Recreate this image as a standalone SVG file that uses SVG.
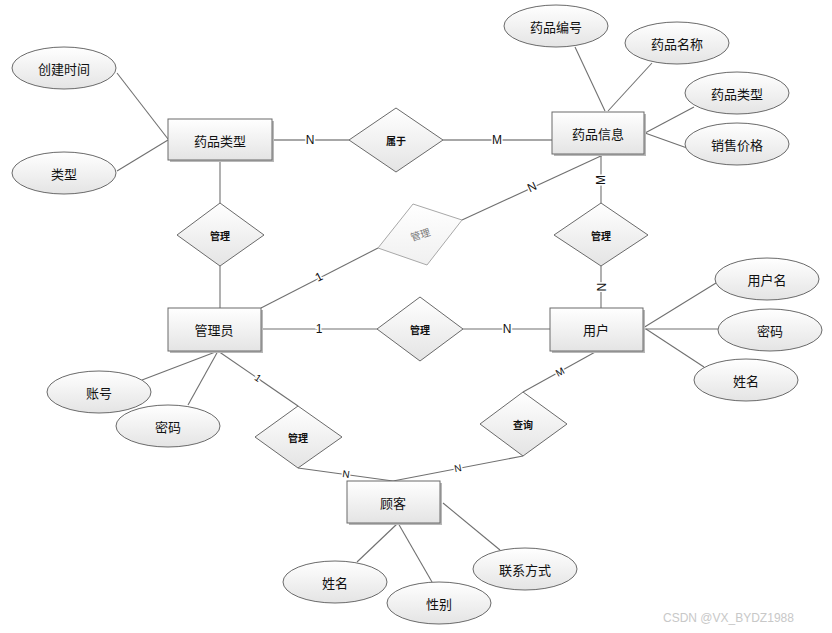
<svg xmlns="http://www.w3.org/2000/svg" width="832" height="633" viewBox="0 0 832 633">
<defs>
<linearGradient id="g" x1="0" y1="0" x2="0" y2="1">
<stop offset="0" stop-color="#ffffff"/>
<stop offset="1" stop-color="#e4e4e4"/>
</linearGradient>
<linearGradient id="gf" x1="0" y1="0" x2="0" y2="1">
<stop offset="0" stop-color="#ffffff"/>
<stop offset="1" stop-color="#f0f0f0"/>
</linearGradient>
</defs>
<style>
.ent rect.s{fill:#b8b8b8}
.ent rect.b{fill:url(#g);stroke:#6a6a6a;stroke-width:1}
.att ellipse{fill:url(#g);stroke:#6a6a6a;stroke-width:1}
.rel polygon{fill:url(#g);stroke:#6a6a6a;stroke-width:1}
.faded polygon{fill:url(#gf);stroke:#a8a8a8;stroke-width:1}
text{font-family:"Noto Sans CJK SC","Liberation Sans",sans-serif;text-anchor:middle;dominant-baseline:central;fill:#111}
.t{font-size:13px}
.r{font-size:10px;font-weight:bold}
.faded text{fill:#777;font-weight:normal}
.edges line{stroke:#707070;stroke-width:1.1}
.edges line.h{stroke:#8a8a8a;stroke-width:1.6}
.lab{font-family:"Liberation Sans","DejaVu Sans",sans-serif;font-size:12px;stroke:#fff;stroke-width:3;paint-order:stroke;fill:#111}
.lab.s{font-size:10px}
.wm{font-family:"Liberation Sans",sans-serif;font-size:12px;fill:#c8c8c8;text-anchor:start}
</style>
<rect width="832" height="633" fill="#fff"/>

<g class="edges" id="connectors">
<line x1="117" y1="73" x2="168" y2="139"/>
<line x1="117" y1="171" x2="168" y2="140"/>
<line class="h" x1="272" y1="140" x2="349" y2="140"/>
<line class="h" x1="443" y1="140" x2="552" y2="140"/>
<line x1="220" y1="160" x2="220" y2="203"/>
<line x1="220" y1="266" x2="220" y2="308"/>
<line x1="261" y1="308" x2="378" y2="248"/>
<line x1="462" y1="220" x2="603" y2="155"/>
<line x1="601" y1="154" x2="601" y2="203"/>
<line x1="601" y1="266" x2="601" y2="308"/>
<line x1="261" y1="329" x2="377" y2="329"/>
<line x1="463" y1="329" x2="550" y2="329"/>
<line x1="643" y1="328" x2="716" y2="283"/>
<line x1="643" y1="329" x2="718" y2="329"/>
<line x1="646" y1="329" x2="704" y2="367"/>
<line x1="605" y1="111" x2="575" y2="47"/>
<line x1="608" y1="111" x2="652" y2="63"/>
<line x1="645" y1="133" x2="694" y2="107"/>
<line x1="645" y1="133" x2="687" y2="148"/>
<line x1="218" y1="351" x2="142" y2="380"/>
<line x1="218" y1="351" x2="188" y2="405"/>
<line x1="218" y1="351" x2="298" y2="406"/>
<line x1="298" y1="468" x2="393" y2="481"/>
<line x1="523" y1="456" x2="393" y2="481"/>
<line x1="523" y1="392" x2="597" y2="351"/>
<line x1="398" y1="523" x2="357" y2="562"/>
<line x1="398" y1="523" x2="432" y2="582"/>
<line x1="443" y1="503" x2="500" y2="550"/>
<text class="lab" x="310" y="140">N</text>
<text class="lab" x="497" y="140">M</text>
<text class="lab" x="319" y="277" transform="rotate(-27 319 277)">1</text>
<text class="lab" x="532" y="187" transform="rotate(-25 532 187)">N</text>
<text class="lab" x="601" y="180" transform="rotate(-90 601 180)">M</text>
<text class="lab" x="601" y="287" transform="rotate(90 601 287)">N</text>
<text class="lab" x="319" y="329">1</text>
<text class="lab" x="507" y="329">N</text>
<text class="lab s" x="258" y="378" transform="rotate(34 258 378)">1</text>
<text class="lab s" x="346" y="474" transform="rotate(8 346 474)">N</text>
<text class="lab s" x="458" y="468" transform="rotate(-11 458 468)">N</text>
<text class="lab s" x="560" y="372" transform="rotate(-29 560 372)">M</text>
</g>

<g class="ent" id="e-yplx"><rect class="s" x="170" y="121" width="104" height="41"/><rect class="b" x="168" y="119" width="104" height="41"/><text class="t" x="220" y="140">药品类型</text></g>
<g class="ent" id="e-ypxx"><rect class="s" x="554" y="114" width="92" height="42"/><rect class="b" x="552" y="112" width="92" height="42"/><text class="t" x="598" y="133">药品信息</text></g>
<g class="ent" id="e-gly"><rect class="s" x="170" y="310" width="93" height="43"/><rect class="b" x="168" y="308" width="93" height="43"/><text class="t" x="214" y="329">管理员</text></g>
<g class="ent" id="e-yh"><rect class="s" x="552" y="310" width="93" height="43"/><rect class="b" x="550" y="308" width="93" height="43"/><text class="t" x="596" y="329">用户</text></g>
<g class="ent" id="e-gk"><rect class="s" x="349" y="483" width="93" height="42"/><rect class="b" x="347" y="481" width="93" height="42"/><text class="t" x="393" y="502">顾客</text></g>

<g class="att" id="a-cjsj"><ellipse cx="64" cy="68" rx="52" ry="21"/><text class="t" x="64" y="68">创建时间</text></g>
<g class="att" id="a-lx"><ellipse cx="64" cy="173" rx="52" ry="21"/><text class="t" x="64" y="173">类型</text></g>
<g class="att" id="a-ypbh"><ellipse cx="556" cy="26" rx="52" ry="21"/><text class="t" x="556" y="26">药品编号</text></g>
<g class="att" id="a-ypmc"><ellipse cx="677" cy="43" rx="52" ry="21"/><text class="t" x="677" y="43">药品名称</text></g>
<g class="att" id="a-yplx"><ellipse cx="737" cy="93" rx="52" ry="21"/><text class="t" x="737" y="93">药品类型</text></g>
<g class="att" id="a-xsjg"><ellipse cx="737" cy="144" rx="52" ry="21"/><text class="t" x="737" y="144">销售价格</text></g>
<g class="att" id="a-yhm"><ellipse cx="767" cy="279" rx="52" ry="21"/><text class="t" x="767" y="279">用户名</text></g>
<g class="att" id="a-mm1"><ellipse cx="770" cy="330" rx="52" ry="21"/><text class="t" x="770" y="330">密码</text></g>
<g class="att" id="a-xm1"><ellipse cx="746" cy="380" rx="52" ry="21"/><text class="t" x="746" y="380">姓名</text></g>
<g class="att" id="a-zh"><ellipse cx="99" cy="392" rx="52" ry="21"/><text class="t" x="99" y="392">账号</text></g>
<g class="att" id="a-mm2"><ellipse cx="168" cy="426" rx="52" ry="21"/><text class="t" x="168" y="426">密码</text></g>
<g class="att" id="a-xm2"><ellipse cx="335" cy="582" rx="52" ry="21"/><text class="t" x="335" y="582">姓名</text></g>
<g class="att" id="a-xb"><ellipse cx="439" cy="603" rx="52" ry="21"/><text class="t" x="439" y="603">性别</text></g>
<g class="att" id="a-lxfs"><ellipse cx="525" cy="569" rx="52" ry="21"/><text class="t" x="525" y="569">联系方式</text></g>

<g class="rel" id="r-sy"><polygon points="396,108 443,140 396,172 349,140"/><text class="r" x="396" y="140">属于</text></g>
<g class="rel" id="r-gl1"><polygon points="220,203 264,235 220,266 177,235"/><text class="r" x="220" y="235">管理</text></g>
<g class="rel faded" id="r-gl2"><polygon points="413,204 462,220 427,265 378,248"/><text class="r" x="420" y="234" transform="rotate(-18 420 234)">管理</text></g>
<g class="rel" id="r-gl3"><polygon points="420,297 463,329 420,361 377,329"/><text class="r" x="420" y="329">管理</text></g>
<g class="rel" id="r-gl4"><polygon points="601,203 648,235 601,266 554,235"/><text class="r" x="601" y="235">管理</text></g>
<g class="rel" id="r-gl5"><polygon points="298,406 342,437 298,468 255,437"/><text class="r" x="298" y="437">管理</text></g>
<g class="rel" id="r-cx"><polygon points="523,392 567,424 523,456 480,424"/><text class="r" x="523" y="424">查询</text></g>

<text class="wm" x="663" y="618">CSDN @VX_BYDZ1988</text>
</svg>
